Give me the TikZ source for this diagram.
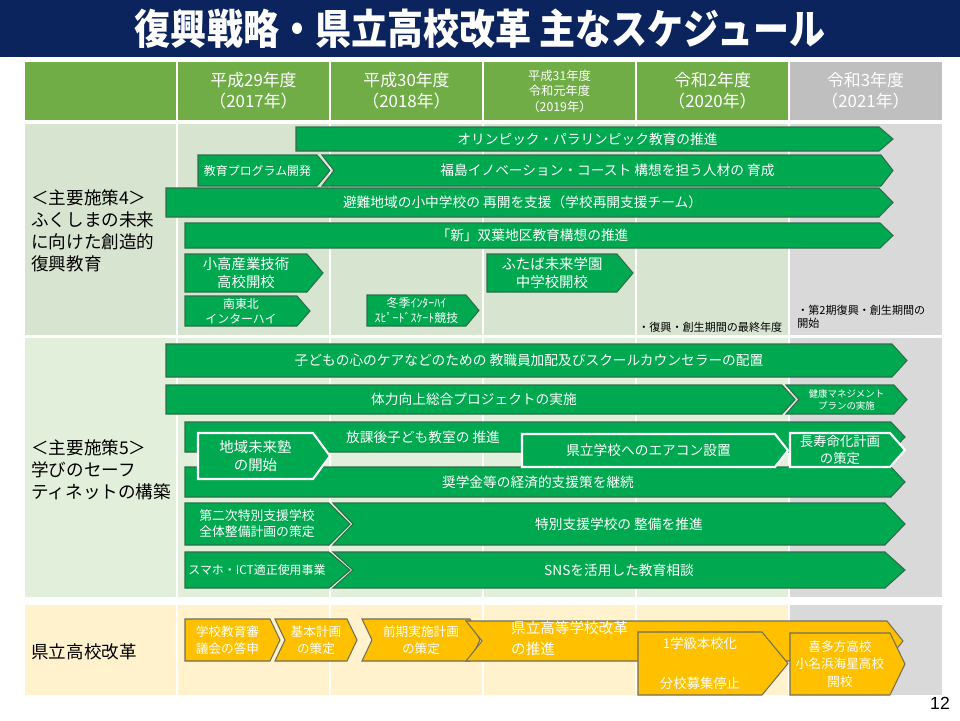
\documentclass[tikz,border=0pt]{standalone}
\usepackage{fontspec}
\setmainfont{Noto Sans CJK JP}
\newfontfamily\numfont{Liberation Sans}
\usepackage{tikz}
\usetikzlibrary{positioning}

\definecolor{navy}{RGB}{12,36,94}
\definecolor{hdgreen}{RGB}{112,173,71}
\definecolor{hdgray}{RGB}{191,191,191}
\definecolor{secone}{RGB}{215,228,208}
\definecolor{sectwo}{RGB}{226,239,218}
\definecolor{secthree}{RGB}{255,242,204}
\definecolor{lastcol}{RGB}{217,217,217}
\definecolor{bargreen}{RGB}{0,168,80}
\definecolor{baredge}{RGB}{45,110,75}
\definecolor{goldc}{RGB}{255,192,0}
\definecolor{goldedge}{RGB}{115,110,90}

\newcommand{\fs}[1]{\fontsize{#1}{#1}\selectfont}

% arrow with flat tail: [text options]{style}{name}{x1}{y1}{x2}{y2}{tip}{text}
\newcommand{\homeplate}[9][]{%
  \draw[#2] (#4,#5) -- ({#6-#8},#5) -- (#6,{(#5+#7)/2}) -- ({#6-#8},#7) -- (#4,#7) -- cycle;
  \node[#2 text,#1] (#3) at ({(#4+#6-#8)/2},{(#5+#7)/2}) {#9};}
% arrow with notched tail
\newcommand{\chevron}[9][]{%
  \draw[#2] (#4,#5) -- ({#6-#8},#5) -- (#6,{(#5+#7)/2}) -- ({#6-#8},#7) -- (#4,#7) -- ({#4+#8},{(#5+#7)/2}) -- cycle;
  \node[#2 text,#1] (#3) at ({(#4+#6)/2},{(#5+#7)/2}) {#9};}

\begin{document}
\begin{tikzpicture}[
    x=0.02cm, y=-0.02cm,
    head/.style={text=white, align=center, inner sep=0pt, font=\fontsize{9.6}{12}\selectfont},
    side/.style={anchor=west, align=left, inner sep=0pt, font=\fontsize{10}{12.5}\selectfont},
    note/.style={inner sep=0pt, align=left, font=\fontsize{6.3}{7.5}\selectfont},
    bar/.style={fill=bargreen, draw=baredge, line width=0.6pt},
    barw/.style={fill=bargreen, draw=white, line width=1.2pt},
    gold/.style={fill=goldc, draw=goldedge, line width=0.6pt},
    bar text/.style={text=white, align=center, inner sep=0pt, font=\fontsize{7.8}{10}\selectfont},
    barw text/.style={bar text},
    gold text/.style={text=white, align=center, inner sep=0pt, font=\fontsize{7.2}{9.6}\selectfont},
    small/.style={font=\fontsize{6.8}{8.5}\selectfont},
    sep/.style={white, line width=0.8pt}
]
\useasboundingbox (0,0) rectangle (960,720);

% Title
\fill[navy] (0,0) rectangle (960,57);
\node[text=white, font=\bfseries\fontsize{20.5}{22}\selectfont] (title) at (480,29)
  {\scalebox{1}[1.15]{復興戦略・県立高校改革 主なスケジュール}};

% Header row
\fill[hdgreen] (25,62) rectangle (789,120);
\fill[hdgray] (789,62) rectangle (942,120);
\node[head] (y2017) at (253.5,91) {平成29年度\\（2017年）};
\node[head] (y2018) at (406.5,91) {平成30年度\\（2018年）};
\node[head, font=\fontsize{7}{8.8}\selectfont] (y2019) at (559.5,91) {平成31年度\\令和元年度\\（2019年）};
\node[head] (y2020) at (712.5,91) {令和2年度\\（2020年）};
\node[head] (y2021) at (865.5,91) {令和3年度\\（2021年）};

% Section backgrounds
\fill[secone] (25,124) rectangle (789,335);
\fill[sectwo] (25,338) rectangle (789,597);
\fill[secthree] (25,605) rectangle (789,695);
\fill[lastcol] (789,124) rectangle (942,335);
\fill[lastcol] (789,338) rectangle (942,597);
\fill[lastcol] (789,605) rectangle (942,695);
\foreach \x in {177,330,483,636,789} {
  \draw[sep, line width=1.2pt] (\x,62) -- (\x,120);
  \draw[sep] (\x,124) -- (\x,335);
  \draw[sep] (\x,338) -- (\x,597);
  \draw[sep] (\x,605) -- (\x,695);
}

% Section labels
\node[side] (sec4) at (31,231) {＜主要施策4＞\\ふくしまの未来\\に向けた創造的\\復興教育};
\node[side] (sec5) at (31,470) {＜主要施策5＞\\学びのセーフ\\ティネットの構築};
\node[side] (reform) at (31,652) {県立高校改革};

% Section 1
\homeplate{bar}{olym}{296}{127}{893}{151}{14}{オリンピック・パラリンピック教育の推進}
\homeplate[small]{bar}{prog}{198}{155}{330}{186}{13}{教育プログラム開発}
\chevron{bar}{innov}{322}{155}{893}{186}{12}{福島イノベーション・コースト 構想を担う人材の 育成}
\homeplate{bar}{hinan}{166}{188}{893}{217}{14}{避難地域の小中学校の 再開を支援（学校再開支援チーム）}
\homeplate{bar}{futaba}{185}{223}{893}{248}{13}{「新」双葉地区教育構想の推進}
\homeplate[font=\fontsize{8.2}{10.5}\selectfont]{bar}{odaka}{185}{254}{323}{292}{16}{小高産業技術\\高校開校}
\homeplate[font=\fontsize{8.2}{10.5}\selectfont]{bar}{mirai}{487}{254}{633}{292}{16}{ふたば未来学園\\中学校開校}
\homeplate[small]{bar}{ihs}{185}{296}{310}{326}{13}{南東北\\インターハイ}
\homeplate[small]{bar}{winter}{367}{295}{479}{326}{13}{冬季ｲﾝﾀｰﾊｲ\\ｽﾋﾟｰﾄﾞｽｹｰﾄ競技}
\node[note, anchor=west] (final) at (638,327) {・復興・創生期間の最終年度};
\node[note, anchor=north west] (second) at (797,305) {・第2期復興・創生期間の\\開始};

% Section 2
\homeplate{bar}{care}{166}{344}{907}{377}{15}{子どもの心のケアなどのための 教職員加配及びスクールカウンセラーの配置}
\homeplate{bar}{tairyoku}{166}{385}{795}{414}{13}{体力向上総合プロジェクトの実施}
\chevron[font=\fontsize{5.4}{6.8}\selectfont]{bar}{kenko}{786}{385}{907}{414}{13}{健康マネジメント\\プランの実施}
\homeplate[xshift=-2.3cm]{bar}{houkago}{185}{422}{905}{452}{14}{放課後子ども教室の 推進}
\homeplate{bar}{shogaku}{185}{467}{905}{497}{14}{奨学金等の経済的支援策を継続}
\homeplate[font=\fontsize{8.2}{10.5}\selectfont]{barw}{chiiki}{198}{433}{330}{479}{17}{地域未来塾\\の開始}
\homeplate{barw}{aircon}{522}{434}{788}{467}{13}{県立学校へのエアコン設置}
\homeplate[font=\fontsize{7.6}{9.5}\selectfont]{barw}{choju}{790}{433}{905}{467}{15}{長寿命化計画\\の策定}
\homeplate[font=\fontsize{7.3}{9}\selectfont]{bar}{dai2}{185}{503}{350}{545}{21}{第二次特別支援学校\\全体整備計画の策定}
\chevron{bar}{tokubetsu}{333}{503}{905}{545}{20}{特別支援学校の 整備を推進}
\homeplate[small]{bar}{sumaho}{185}{552}{350}{588}{21}{スマホ・ICT適正使用事業}
\chevron{bar}{sns}{333}{552}{905}{588}{20}{SNSを活用した教育相談}

% Section 3
\homeplate{gold}{toshin}{185}{619}{280}{661}{10}{学校教育審\\議会の答申}
\chevron{gold}{kihon}{275}{619}{357}{661}{10}{基本計画\\の策定}
\chevron{gold}{zenki}{362}{619}{480}{661}{10}{前期実施計画\\の策定}
\chevron[align=left, xshift=-2.3cm, yshift=0.05cm, font=\fontsize{8.3}{12}\selectfont]{gold}{kaikaku}{466}{621}{903}{661}{16}{県立高等学校改革\\の推進}
\homeplate[font=\fontsize{7.6}{9.5}\selectfont]{gold}{honko}{638}{632}{788}{695}{26}{1学級本校化\\[13pt]分校募集停止}
\homeplate[font=\fontsize{7.2}{10}\selectfont]{gold}{kitakata}{790}{633}{905}{695}{15}{喜多方高校\\小名浜海星高校\\開校}

% Page number
\node[font=\numfont\fontsize{10}{12}\selectfont] (page) at (940,703) {12};

\end{tikzpicture}
\end{document}
